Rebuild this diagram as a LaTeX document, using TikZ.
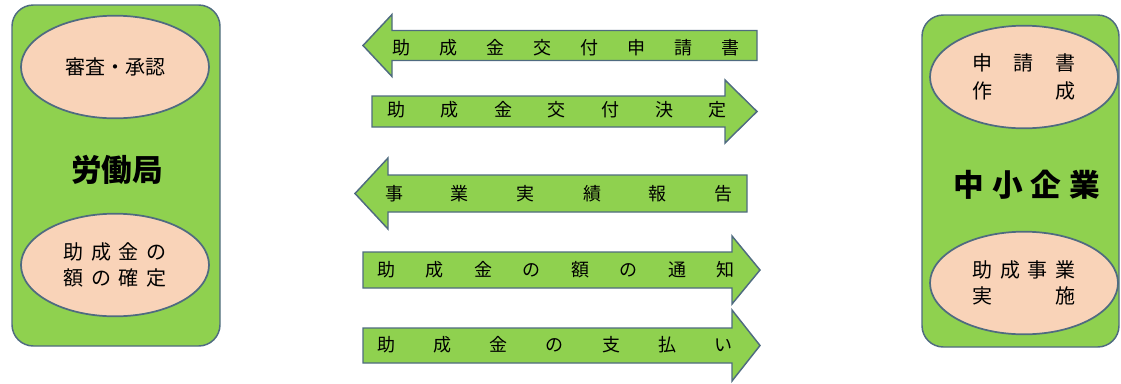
\documentclass[tikz,border=0pt]{standalone}
\usepackage{fontspec}
\newfontfamily\jpfont{Noto Sans CJK JP}
\usetikzlibrary{shapes.geometric}
\definecolor{boxgreen}{HTML}{8FD14F}
\definecolor{edgeblue}{HTML}{4F6B80}
\definecolor{peach}{HTML}{F9D3B8}
\tikzset{
  orgbox/.style={draw=edgeblue, fill=boxgreen, line width=1.1pt, rounded corners=16pt, minimum width=#1, inner sep=0pt},
  taskoval/.style={ellipse, draw=edgeblue, fill=peach, line width=1.3pt, minimum width=141pt, minimum height=77pt, inner sep=0pt, text width=77pt, font=\jpfont\fontsize{15}{19}\selectfont},
  orglabel/.style={font=\jpfont\bfseries\fontsize{23}{26}\selectfont, inner sep=0pt},
  arrowshape/.style={draw=edgeblue, fill=boxgreen, line width=1.1pt, line join=miter},
  arrowtext/.style={font=\jpfont\fontsize{13.5}{15}\selectfont, inner sep=0pt, text width=#1}
}
\begin{document}
\begin{tikzpicture}[x=0.75pt, y=-0.75pt]
  \useasboundingbox (0,0) rectangle (1121,383);
  % 労働局 side
  \node[orgbox=156pt, minimum height=255.75pt] (rokyoku) at (116,175.5) {};
  \node[orglabel] (rokyokulabel) at (117,170) {労働局};
  \node[taskoval, align=center] (shinsa) at (115,67) {審査・承認};
  \node[taskoval] (kakutei) at (115,265) {助\hfill 成\hfill 金\hfill の\\額\hfill の\hfill 確\hfill 定};
  % 中小企業 side
  \node[orgbox=147.75pt, minimum height=249pt] (kigyo) at (1020.5,181) {};
  \node[orglabel, text width=110pt] (kigyolabel) at (1027,185) {中\hfill 小\hfill 企\hfill 業};
  \node[taskoval, font=\jpfont\fontsize{15}{21}\selectfont] (sakusei) at (1024,77) {申\hfill 請\hfill 書\\作\hfill 成};
  \node[taskoval] (jisshi) at (1024,283) {助\hfill 成\hfill 事\hfill 業\\実\hfill 施};
  % block arrows
  \draw[arrowshape] (363,45.5) -- (392,14.5) -- (392,30.5) -- (757,30.5) -- (757,60.5) -- (392,60.5) -- (392,76.5) -- cycle;
  \draw[arrowshape] (757,111.5) -- (725,80) -- (725,96) -- (372,96) -- (372,127) -- (725,127) -- (725,143) -- cycle;
  \draw[arrowshape] (355,193.5) -- (388,158) -- (388,175) -- (747,175) -- (747,212) -- (388,212) -- (388,229) -- cycle;
  \draw[arrowshape] (760,270) -- (732,236) -- (732,252) -- (363,252) -- (363,288) -- (732,288) -- (732,304) -- cycle;
  \draw[arrowshape] (760,345.5) -- (732,310) -- (732,328) -- (363,328) -- (363,363) -- (732,363) -- (732,381) -- cycle;
  \node[arrowtext=261pt] (shinsei) at (566,48) {助\hfill 成\hfill 金\hfill 交\hfill 付\hfill 申\hfill 請\hfill 書};
  \node[arrowtext=255pt] (kettei) at (557,110) {助\hfill 成\hfill 金\hfill 交\hfill 付\hfill 決\hfill 定};
  \node[arrowtext=261pt] (jisseki) at (559,194) {事\hfill 業\hfill 実\hfill 績\hfill 報\hfill 告};
  \node[arrowtext=268.5pt] (tsuchi) at (556,270) {助\hfill 成\hfill 金\hfill の\hfill 額\hfill の\hfill 通\hfill 知};
  \node[arrowtext=267pt] (shiharai) at (555,345) {助\hfill 成\hfill 金\hfill の\hfill 支\hfill 払\hfill い};
\end{tikzpicture}
\end{document}
